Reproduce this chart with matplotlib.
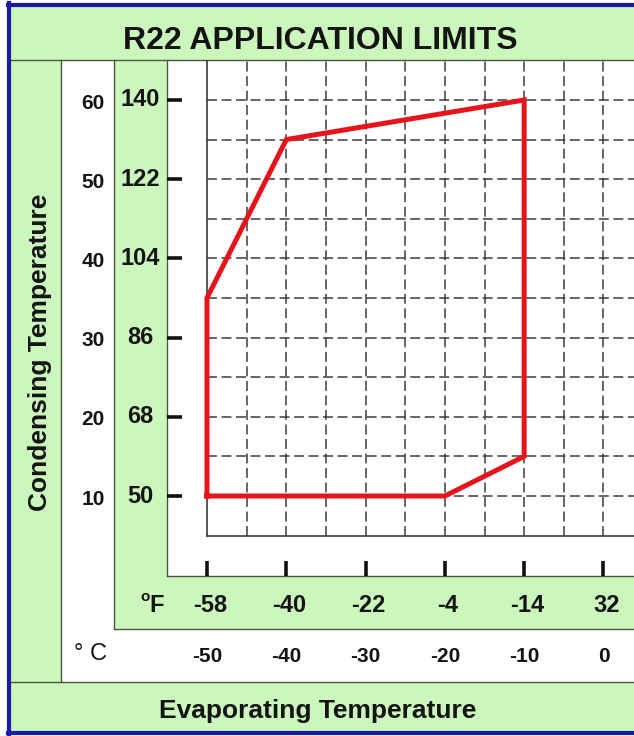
import matplotlib
matplotlib.use('Agg')
import matplotlib.pyplot as plt
from matplotlib.patches import Rectangle
from matplotlib.lines import Line2D
from matplotlib.transforms import blended_transform_factory

plt.rcParams['font.family'] = ['Liberation Sans', 'DejaVu Sans']

# envelope in deg C (evaporating, condensing)
evap_c = [-50, -20, -10, -10, -40, -50, -50]
cond_c = [10, 10, 15, 60, 55, 35, 10]

x_ticks_c = [-50, -40, -30, -20, -10, 0]
x_labels_f = ['-58', '-40', '-22', '-4', '-14', '32']
x_labels_c = ['-50', '-40', '-30', '-20', '-10', '0']
y_ticks_c = [10, 20, 30, 40, 50, 60]
y_labels_f = ['50', '68', '86', '104', '122', '140']
y_labels_c = ['10', '20', '30', '40', '50', '60']

W, H = 634, 736
GREEN = '#cbf7bd'
EDGE = '#4d5540'
BLUE = '#1a1aa6'
INK = '#141414'

fig = plt.figure(figsize=(W / 100, H / 100), dpi=100)
fig.patch.set_facecolor('white')


def fx(x):
    return x / W


def fy(y):
    return 1 - y / H


def panel(x0, y0, x1, y1, color):
    fig.patches.append(Rectangle((fx(x0), fy(y1)), fx(x1) - fx(x0), fy(y0) - fy(y1),
                                 transform=fig.transFigure, facecolor=color,
                                 edgecolor='none', zorder=0))


def hline(y, x0, x1, color=EDGE, lw=1.0):
    fig.lines.append(Line2D([fx(x0), fx(x1)], [fy(y), fy(y)], transform=fig.transFigure,
                            color=color, lw=lw, zorder=1))


def vline(x, y0, y1, color=EDGE, lw=1.0):
    fig.lines.append(Line2D([fx(x), fx(x)], [fy(y0), fy(y1)], transform=fig.transFigure,
                            color=color, lw=lw, zorder=1))


# background panels
panel(10, 6, W, 60, GREEN)
panel(10, 60, 61, 682, GREEN)
panel(10, 682, W, 732, GREEN)
panel(114, 60, 167, 629, GREEN)
panel(114, 576, W, 629, GREEN)

hline(60, 10, W)
vline(61, 60, 682)
hline(682, 10, W)
vline(114, 60, 629)
hline(629, 114, W)
vline(167, 60, 576)
hline(576, 167, W)

# blue outer frame
vline(9, 3, 734, BLUE, 3.0)
hline(4.5, 8, W, BLUE, 3.0)
hline(733, 8, W, BLUE, 3.0)

# chart axes (white area)
ax = fig.add_axes([fx(167), fy(576), fx(W) - fx(167), fy(60) - fy(576)])
ax.set_zorder(3)
ax.set_facecolor('none')
ax.set_xlim(-55.04, 3.85)
ax.set_ylim(-0.1, 65.05)
for s in ax.spines.values():
    s.set_visible(False)

# grid
grid_kw = dict(color='#3c3c3c', lw=1.1, dashes=(6.5, 3.0), zorder=2)
for gx in range(-45, 5, 5):
    ax.plot([gx, gx], [5, 65.05], **grid_kw)
for gy in range(10, 65, 5):
    ax.plot([-50, 3.85], [gy, gy], **grid_kw)
ax.plot([-50, -50], [5, 65.05], color='#3c3c3c', lw=1.2, zorder=2)
ax.plot([-50, 3.85], [5, 5], color='#3c3c3c', lw=1.2, zorder=2)

# envelope
ax.plot(evap_c, cond_c, color='#e8141c', lw=3.6, solid_joinstyle='miter', zorder=3)

ax.set_xticks(x_ticks_c)
ax.set_yticks(y_ticks_c)
ax.tick_params(direction='in', length=10.5, width=2.6, color='#111111',
               labelleft=False, labelbottom=False)

# tick labels outside the axes
tx = blended_transform_factory(ax.transData, fig.transFigure)
ty = blended_transform_factory(fig.transFigure, ax.transData)
for xv, lf, lc in zip(x_ticks_c, x_labels_f, x_labels_c):
    ax.text(xv + 0.4, fy(605), lf, transform=tx, ha='center', va='center',
            fontsize=17, fontweight='bold', color=INK, clip_on=False)
    ax.text(xv, fy(656), lc, transform=tx, ha='center', va='center',
            fontsize=15, fontweight='bold', color=INK, clip_on=False)
for yv, lf, lc in zip(y_ticks_c, y_labels_f, y_labels_c):
    ax.text(fx(140), yv, lf, transform=ty, ha='center', va='center',
            fontsize=17, fontweight='bold', color=INK, clip_on=False)
    ax.text(fx(93), yv - 0.4, lc, transform=ty, ha='center', va='center',
            fontsize=15, fontweight='bold', color=INK, clip_on=False)

fig.text(fx(145), fy(597), 'o', ha='center', va='center', fontsize=11,
         fontweight='bold', color=INK)
fig.text(fx(157), fy(605), 'F', ha='center', va='center', fontsize=17,
         fontweight='bold', color=INK)
fig.text(fx(90), fy(654), '° C', ha='center', va='center', fontsize=17, color=INK)

fig.text(fx(320), fy(41), 'R22 APPLICATION LIMITS', ha='center', va='center',
         fontsize=23, fontweight='bold', color=INK)
fig.text(fx(318), fy(711), 'Evaporating Temperature', ha='center', va='center',
         fontsize=19, fontweight='bold', color=INK)
fig.text(fx(40), fy(352), 'Condensing Temperature', ha='center', va='center',
         rotation=90, fontsize=19, fontweight='bold', color=INK)

fig.savefig('out.png', dpi=100, facecolor=fig.get_facecolor())
